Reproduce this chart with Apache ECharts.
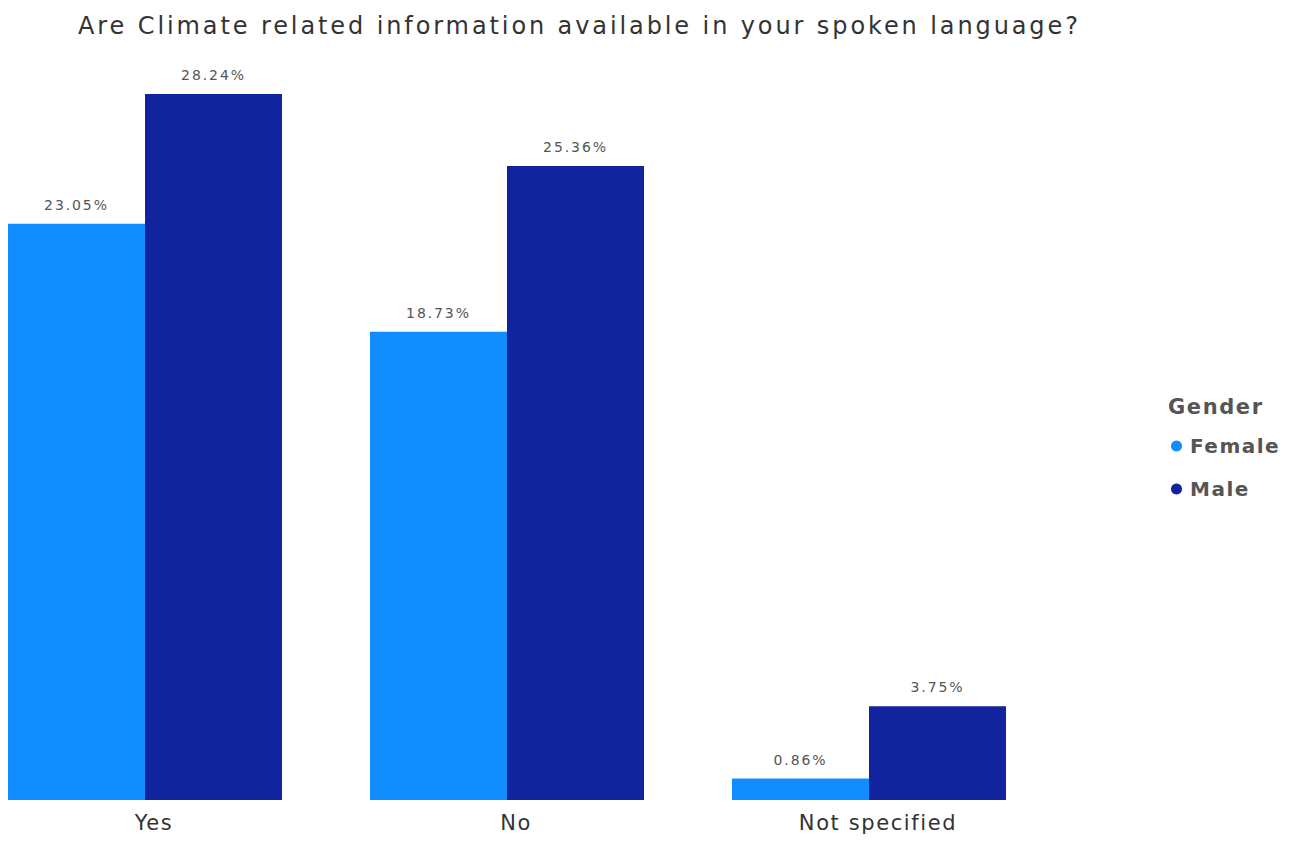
<!DOCTYPE html>
<html><head><meta charset="utf-8">
<script src="https://cdn.jsdelivr.net/npm/echarts@6/dist/echarts.min.js"></script>
<style>
html,body{margin:0;padding:0;background:#fff;overflow:hidden}
#c{position:absolute;left:-36px;top:0;width:1330px;height:842px}
#c text[style*="24px"]{letter-spacing:2.9px}
#c text[style*="21px"]{letter-spacing:1.6px}
#c text[style*="20px"]{letter-spacing:1.5px}
#c text[style*="14px"]{letter-spacing:1.9px}
</style>
</head><body><div id="c"></div>
<script>
const categories = ["Yes", "No", "Not specified"];
const female = [23.05, 18.73, 0.86];
const male = [28.24, 25.36, 3.75];
const seriesNames = ["Female", "Male"];
const legendTitle = "Gender";
const chartTitle = "Are Climate related information available in your spoken language?";

const OFF = 36; // container shifted left by this many px
const chart = echarts.init(document.getElementById('c'), null, {renderer: 'svg'});
const labelCfg = {
  show: true, position: 'top', distance: 12,
  formatter: p => p.value.toFixed(2) + '%',
  color: '#555', fontSize: 14, fontFamily: 'DejaVu Sans'
};
chart.setOption({
  animation: false,
  title: [{
    text: chartTitle, left: 73 + OFF, top: 9,
    textStyle: {fontFamily: 'DejaVu Sans', fontSize: 24, fontWeight: 'normal', color: '#333'}
  }, {
    text: legendTitle, left: 1163 + OFF, top: 391,
    textStyle: {fontFamily: 'DejaVu Sans', fontSize: 21, fontWeight: 'bold', color: '#555'}
  }],
  legend: {
    orient: 'vertical', left: 1166 + OFF, top: 431, itemGap: 23,
    icon: 'circle', itemWidth: 11, itemHeight: 11,
    textStyle: {fontFamily: 'DejaVu Sans', fontSize: 20, fontWeight: 'bold', color: '#555', padding: [0,0,0,3]},
    data: seriesNames
  },
  grid: {left: 0, right: 244, top: 50, bottom: 42, containLabel: false},
  xAxis: {
    type: 'category', data: categories,
    axisLine: {show: false}, axisTick: {show: false},
    axisLabel: {fontFamily: 'DejaVu Sans', fontSize: 21, color: '#333', margin: 12, padding: [0,0,0,18]}
  },
  yAxis: {type: 'value', min: 0, max: 30, show: false, splitLine: {show: false}},
  series: [
    {name: seriesNames[0], type: 'bar', data: female, barGap: '0%', barCategoryGap: '24.3%',
     itemStyle: {color: '#118DFF'}, label: labelCfg},
    {name: seriesNames[1], type: 'bar', data: male,
     itemStyle: {color: '#12239E'}, label: labelCfg}
  ]
});
</script></body></html>
